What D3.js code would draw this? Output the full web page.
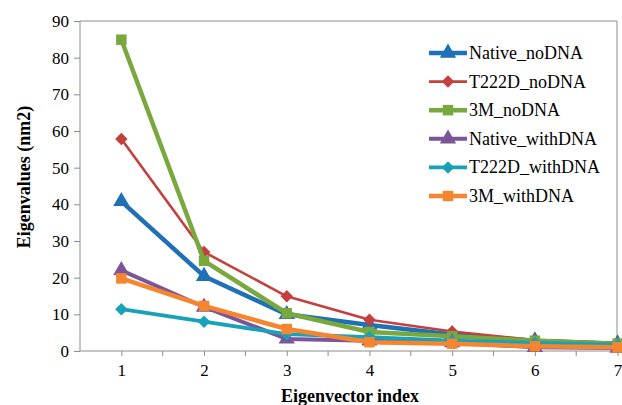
<!DOCTYPE html>
<html>
<head>
<meta charset="utf-8">
<script src="https://cdn.jsdelivr.net/npm/d3@7"></script>
<style>
  body { margin: 0; background: #fff; }
  svg { display: block; font-family: "Liberation Serif", "Times New Roman", serif; }
  .axis path, .axis line { stroke: #8c8c8c; }
</style>
</head>
<body>
<div id="chart"></div>
<script>
var svgWidth = 622;
var svgHeight = 405;

var margin = { top: 21, right: 5, bottom: 54, left: 80 };

// data
var indices = [1, 2, 3, 4, 5, 6, 7];
var seriesNames = ['Native_noDNA', 'T222D_noDNA', '3M_noDNA', 'Native_withDNA', 'T222D_withDNA', '3M_withDNA'];
var nativeNo = [40.8, 20.4, 10.0, 7.1, 4.5, 2.8, 2.0];
var t222dNo = [57.8, 27.0, 14.9, 8.5, 5.3, 3.0, 2.2];
var m3No = [84.9, 24.6, 10.3, 5.2, 4.0, 2.8, 2.0];
var nativeWith = [22.0, 12.0, 3.3, 2.8, 2.3, 1.0, 0.8];
var t222dWith = [11.4, 8.0, 4.6, 3.8, 2.8, 2.2, 1.7];
var m3With = [19.8, 12.3, 6.0, 2.4, 2.0, 1.3, 1.0];
var yTicks = [0, 10, 20, 30, 40, 50, 60, 70, 80, 90];

var colors = ['#1f70b5', '#c4403e', '#79a83e', '#7a559a', '#17a2ba', '#f5852f'];
var widths = [4.5, 2.6, 4.5, 4, 3.8, 4.5];
var shapes = ['triangle', 'diamond', 'square', 'triangle', 'diamond', 'square'];

var allSeries = [nativeNo, t222dNo, m3No, nativeWith, t222dWith, m3With].map(function(vals, i) {
    return { name: seriesNames[i], values: vals, color: colors[i], width: widths[i], shape: shapes[i] };
});

// Excel-ish markers: diamond is a square turned 45 degrees
function markerPath(shape) {
    if (shape == 'triangle') return d3.symbol().type(d3.symbolTriangle).size(115)();
    if (shape == 'diamond') return d3.symbol().type(d3.symbolSquare).size(78)();
    return d3.symbol().type(d3.symbolSquare).size(110)();
}
function markerRot(shape) {
    return shape == 'diamond' ? ' rotate(45)' : '';
}

var frameRight = 617;
var height = svgHeight - margin.top - margin.bottom;

var svg = d3.select('#chart')
    .append('svg')
    .attr('width', svgWidth)
    .attr('height', svgHeight);

// category axis: points in the middle of each category slot
var xScale = d3.scalePoint()
    .domain(indices)
    .range([margin.left, margin.left + 7 * 82.7])
    .padding(0.5);

var yScale = d3.scaleLinear()
    .domain([0, 90])
    .range([margin.top + height, margin.top]);

// frame
svg.append('line')
    .attr('x1', margin.left).attr('x2', frameRight)
    .attr('y1', margin.top).attr('y2', margin.top)
    .attr('stroke', '#8c8c8c');
svg.append('line')
    .attr('x1', frameRight).attr('x2', frameRight)
    .attr('y1', margin.top).attr('y2', margin.top + height)
    .attr('stroke', '#8c8c8c');

var leftAxis = d3.axisLeft(yScale).tickValues(yTicks).tickSize(6).tickPadding(5);
var yAxisG = svg.append('g')
    .attr('class', 'axis')
    .attr('transform', `translate(${margin.left}, 0)`)
    .call(leftAxis);
yAxisG.select('.domain').attr('d', `M0,${margin.top}V${margin.top + height}`);
yAxisG.selectAll('text')
    .attr('font-size', '17px')
    .attr('font-family', '"Liberation Serif", serif')
    .attr('fill', '#000');

var bottomAxis = d3.axisBottom(xScale).tickSize(5).tickPadding(8);
var xAxisG = svg.append('g')
    .attr('class', 'axis')
    .attr('transform', `translate(0, ${margin.top + height})`)
    .call(bottomAxis);
xAxisG.select('.domain').attr('d', `M${margin.left},0H${frameRight}`);
xAxisG.selectAll('text')
    .attr('font-size', '17px')
    .attr('font-family', '"Liberation Serif", serif')
    .attr('fill', '#000');

// tick marks between categories too
var step = xScale.step();
xAxisG.selectAll('line.mid')
    .data(indices.slice(0, 6))
    .enter()
    .append('line')
    .attr('class', 'mid')
    .attr('x1', d => xScale(d) + step / 2)
    .attr('x2', d => xScale(d) + step / 2)
    .attr('y1', 0)
    .attr('y2', 5)
    .attr('stroke', '#8c8c8c');

// axis titles
svg.append('text')
    .attr('transform', `translate(30, 177) rotate(-90)`)
    .attr('text-anchor', 'middle')
    .attr('font-weight', 'bold')
    .attr('font-size', '18px')
    .text('Eigenvalues (nm2)');

svg.append('text')
    .attr('x', 350)
    .attr('y', 402)
    .attr('text-anchor', 'middle')
    .attr('font-weight', 'bold')
    .attr('font-size', '18px')
    .text('Eigenvector index');

var line = d3.line()
    .x((d, i) => xScale(indices[i]))
    .y(d => yScale(d));

var seriesG = svg.selectAll('g.series')
    .data(allSeries)
    .enter()
    .append('g')
    .attr('class', 'series');

seriesG.append('path')
    .attr('d', d => line(d.values))
    .attr('fill', 'none')
    .attr('stroke', d => d.color)
    .attr('stroke-width', d => d.width)
    .attr('stroke-linejoin', 'round');

seriesG.each(function(s) {
    d3.select(this).selectAll('path.marker')
        .data(s.values)
        .enter()
        .append('path')
        .attr('class', 'marker')
        .attr('d', markerPath(s.shape))
        .attr('transform', (d, i) => `translate(${xScale(indices[i])}, ${yScale(d)})` + markerRot(s.shape))
        .attr('fill', s.color);
});

// legend
var legend = svg.append('g')
    .attr('transform', 'translate(429, 53)');

var rows = legend.selectAll('g')
    .data(allSeries)
    .enter()
    .append('g')
    .attr('transform', (d, i) => `translate(0, ${i * 28.6})`);

rows.append('line')
    .attr('x1', 0).attr('x2', 38)
    .attr('y1', 0).attr('y2', 0)
    .attr('stroke', d => d.color)
    .attr('stroke-width', d => d.width);

rows.append('path')
    .attr('d', d => markerPath(d.shape))
    .attr('transform', d => 'translate(19, 0)' + markerRot(d.shape))
    .attr('fill', d => d.color);

rows.append('text')
    .attr('x', 40)
    .attr('y', 6)
    .attr('font-size', '18px')
    .text(d => d.name);
</script>
</body>
</html>
